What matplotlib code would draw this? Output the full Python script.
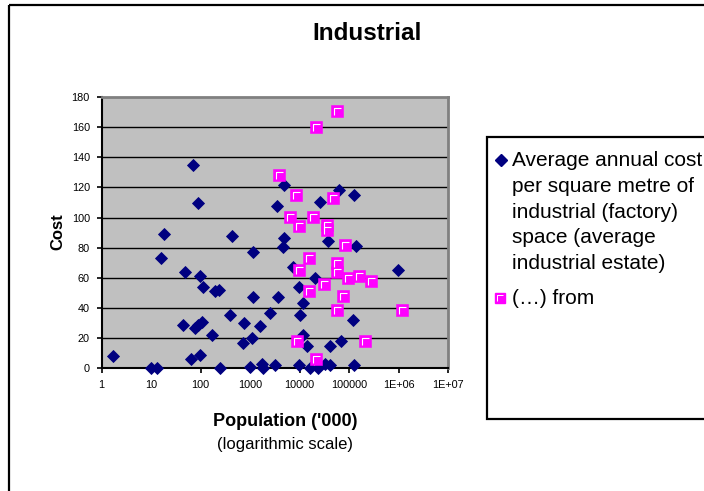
import matplotlib
matplotlib.use("Agg")
import matplotlib.pyplot as plt
from matplotlib.path import Path
from matplotlib.patches import Rectangle
from matplotlib.ticker import FixedLocator, FixedFormatter, NullLocator

plt.rcParams['font.family'] = ['Liberation Sans', 'DejaVu Sans']

# Average annual cost of industrial space vs population ('000)
cost_pop = [1.7, 10, 13, 18.4, 15.8, 48, 97, 112, 195, 238, 423, 1150,
            43, 77, 88, 105, 171, 64, 97, 245, 390, 760, 705, 1100, 1150,
            1590, 2500, 3600, 990, 1700, 1830, 3170, 69, 87, 3430, 4800,
            4900, 4660, 25700, 61400, 125000, 36800, 137000, 7420, 20300,
            9800, 11500, 10100, 121000, 980000, 11800, 13900, 40900, 70000,
            9800, 16200, 23800, 32500, 41000, 125000]
cost_val = [8, 0, 0, 89, 73, 64, 61, 54, 51, 52, 88, 77,
            28.5, 27, 29, 31, 22, 6.5, 9, 0, 35.5, 30, 17, 20, 47,
            28, 37, 47, 1, 3, 0.5, 2, 135, 110, 107.5, 121.5,
            86.5, 80.5, 110.5, 118.5, 115, 84.5, 81, 67.5, 60,
            54, 43.5, 35.5, 32, 65, 22, 15, 15, 18,
            2.5, 0.5, 0, 3, 2, 2.5]

# Second series
other_pop = [55800, 21000, 3820, 8300, 46400, 6340, 9680, 18300, 35100,
             35100, 82200, 15400, 55800, 9680, 55800, 93300, 158000, 276000,
             31000, 15400, 75000, 55800, 1.2e6, 8700, 209000, 21300]
other_val = [171, 160, 128, 115, 113, 100.5, 94.5, 100.5, 95,
             92, 82, 73.5, 70, 65, 64, 60, 61, 58,
             56, 51, 48, 39, 39, 18, 18, 6]

x_ticks = [1, 10, 100, 1000, 10000, 100000, 1e6, 1e7]
x_tick_labels = ['1', '10', '100', '1000', '10000', '100000', '1E+06', '1E+07']
y_ticks = [0, 20, 40, 60, 80, 100, 120, 140, 160, 180]

W, H = 704, 491
fig = plt.figure(figsize=(W / 100, H / 100), dpi=100)
fig.patch.set_facecolor('white')

# plot area in pixel terms
L, R, T, B = 101.7, 448.0, 97.0, 368.3
ax = fig.add_axes([L / W, 1 - B / H, (R - L) / W, (B - T) / H])
ax.set_facecolor('#C0C0C0')
ax.set_xscale('log')
ax.set_xlim(1, 1e7)
ax.set_ylim(0, 180)
ax.xaxis.set_major_locator(FixedLocator(x_ticks))
ax.xaxis.set_major_formatter(FixedFormatter(x_tick_labels))
ax.xaxis.set_minor_locator(NullLocator())
ax.set_yticks(y_ticks)
for yv in y_ticks[1:-1]:
    ax.axhline(yv, color='black', lw=1.0, zorder=1)

for s in ('left', 'bottom'):
    ax.spines[s].set_color('black')
    ax.spines[s].set_linewidth(1.5)
for s in ('top', 'right'):
    ax.spines[s].set_color('#808080')
    ax.spines[s].set_linewidth(2.0)
ax.tick_params(axis='both', direction='out', length=3.5, width=1.2,
               colors='black', labelsize=7.8, pad=5)

navy = '#000080'
magenta = '#FF00FF'
gamma = Path([(-0.28, -0.38), (-0.28, 0.28), (0.38, 0.28)],
             [Path.MOVETO, Path.LINETO, Path.LINETO])
sq_ms = 8.0

ax.plot(cost_pop, cost_val, ls='none', marker='D', ms=6.3, mfc=navy,
        mec=navy, mew=0.6, zorder=3, clip_on=False)
ax.plot(other_pop, other_val, ls='none', marker='s', ms=sq_ms, mfc=magenta,
        mec=magenta, mew=0.4, zorder=4, clip_on=False)
ax.plot(other_pop, other_val, ls='none', marker=gamma, ms=sq_ms * 0.38 / 0.5,
        mfc='none', mec='white', mew=0.8, zorder=5, clip_on=False)

# overlay in pixel coordinates for frame, titles and legend
ov = fig.add_axes([0, 0, 1, 1], zorder=-1)
ov.set_xlim(0, W)
ov.set_ylim(H, 0)
ov.axis('off')
ov.add_patch(Rectangle((9, 5), W + 20, H + 20, fill=False, ec='black', lw=1.6))

fig.text(367 / W, 1 - 34 / H, 'Industrial', ha='center', va='center',
         fontsize=17.5, fontweight='bold')
fig.text(58 / W, 1 - 232 / H, 'Cost', ha='center', va='center',
         rotation=90, fontsize=12, fontweight='bold')
fig.text(285 / W, 1 - 421 / H, "Population ('000)", ha='center', va='center',
         fontsize=13, fontweight='bold')
fig.text(285 / W, 1 - 444 / H, '(logarithmic scale)', ha='center',
         va='center', fontsize=12)

# legend
ov2 = fig.add_axes([0, 0, 1, 1], zorder=2)
ov2.set_xlim(0, W)
ov2.set_ylim(H, 0)
ov2.axis('off')
ov2.add_patch(Rectangle((487, 137), 240, 282, fill=True, fc='white',
                        ec='black', lw=1.6))
ov2.plot([500.7], [160], ls='none', marker='D', ms=6, mfc=navy, mec=navy)
ov2.plot([500], [298], ls='none', marker='s', ms=6.5, mfc=magenta, mec=magenta)
ov2.plot([500], [298], ls='none', marker=gamma, ms=6.5 * 0.38 / 0.5,
         mfc='none', mec='white', mew=0.7)
ov2.text(512, 151, 'Average annual cost\nper square metre of\n'
         'industrial (factory)\nspace (average\nindustrial estate)',
         ha='left', va='top', fontsize=15, linespacing=1.45)
ov2.text(512, 298, '(\u2026) from', ha='left', va='center', fontsize=15)

fig.savefig('out.png', dpi=100)
